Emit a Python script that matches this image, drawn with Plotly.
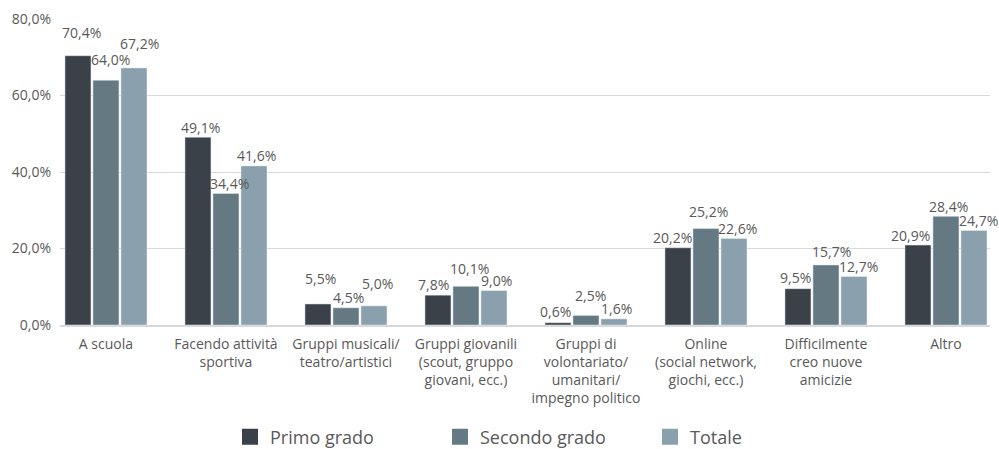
import plotly.graph_objects as go

categories = [
    "A scuola",
    "Facendo attività<br>sportiva",
    "Gruppi musicali/<br>teatro/artistici",
    "Gruppi giovanili<br>(scout, gruppo<br>giovani, ecc.)",
    "Gruppi di<br>volontariato/<br>umanitari/<br>impegno politico",
    "Online<br>(social network,<br>giochi, ecc.)",
    "Difficilmente<br>creo nuove<br>amicizie",
    "Altro",
]
primo_grado = [70.4, 49.1, 5.5, 7.8, 0.6, 20.2, 9.5, 20.9]
secondo_grado = [64.0, 34.4, 4.5, 10.1, 2.5, 25.2, 15.7, 28.4]
totale = [67.2, 41.6, 5.0, 9.0, 1.6, 22.6, 12.7, 24.7]
y_ticks = [0, 20, 40, 60, 80]
y_tick_labels = ["0,0%", "20,0%", "40,0%", "60,0%", "80,0%"]

# label placement (pixels) as in the reference: horizontal nudge, height of label centre above bar top
label_dx = [
    [4, 3, 3, -4, -2, -5, -2, -7],
    [5, 4, 3, 4, 5, 3, 6, 3],
    [6, 3, 4, 3, 3, 4, 5, 5],
]
label_dy = [
    [23, 10, 25, 11, 11, 10, 11, 10],
    [21, 10, 10, 18, 20, 17, 13, 10],
    [24, 10, 22, 10, 10, 10, 10, 10],
]

series = [
    ("Primo grado", primo_grado, "#3a4148"),
    ("Secondo grado", secondo_grado, "#657983"),
    ("Totale", totale, "#8ba0ad"),
]

W, H = 999, 449
ML, MR, MT, MB = 60, 9, 19, 124
x_range = [-0.383, 7.367]
bargap = 0.30
cat_px = (W - ML - MR) / (x_range[1] - x_range[0])
slot_px = cat_px * (1 - bargap) / len(series)

fig = go.Figure()
annotations = []
for si, (name, vals, color) in enumerate(series):
    fig.add_trace(go.Bar(name=name, x=categories, y=vals, marker_color=color,
                         showlegend=False))
    for ci, v in enumerate(vals):
        annotations.append(dict(
            x=categories[ci], y=v, xref="x", yref="y",
            text=f"{v:.1f}%".replace(".", ","), showarrow=False,
            xanchor="center", yanchor="middle",
            xshift=(si - 1) * slot_px + label_dx[si][ci], yshift=label_dy[si][ci],
            font=dict(size=14, color="#595959"),
        ))

# legend entries with larger square swatches
for name, vals, color in series:
    fig.add_trace(go.Scatter(name=name, x=[None], y=[None], mode="markers",
                             marker=dict(symbol="square", size=16, color=color),
                             showlegend=True, hoverinfo="skip"))

fig.update_layout(
    width=W, height=H,
    margin=dict(l=ML, r=MR, t=MT, b=MB, autoexpand=False),
    paper_bgcolor="white", plot_bgcolor="white",
    font=dict(family="Open Sans", color="#595959", size=14),
    separators=",.",
    barmode="group", bargap=bargap, bargroupgap=0.071,
    annotations=annotations,
    legend=dict(orientation="h", x=0.5215, xanchor="center", y=-0.3665, yanchor="middle",
                font=dict(size=18, color="#595959"), entrywidth=165, traceorder="normal",
                itemsizing="trace"),
    xaxis=dict(range=x_range, showline=True, linecolor="#d9d9d9", linewidth=2,
               tickfont=dict(size=14, color="#595959"), ticks="", automargin=False,
               ticklabelstandoff=5),
    yaxis=dict(range=[0, 80], tickvals=y_ticks, ticktext=y_tick_labels,
               gridcolor="#d9d9d9", showline=False, zeroline=False, automargin=False,
               tickfont=dict(size=14, color="#595959"), ticklabelstandoff=8),
)

fig.write_html("out.html", post_script="document.body.style.margin='0';",
               config={"displayModeBar": False})
